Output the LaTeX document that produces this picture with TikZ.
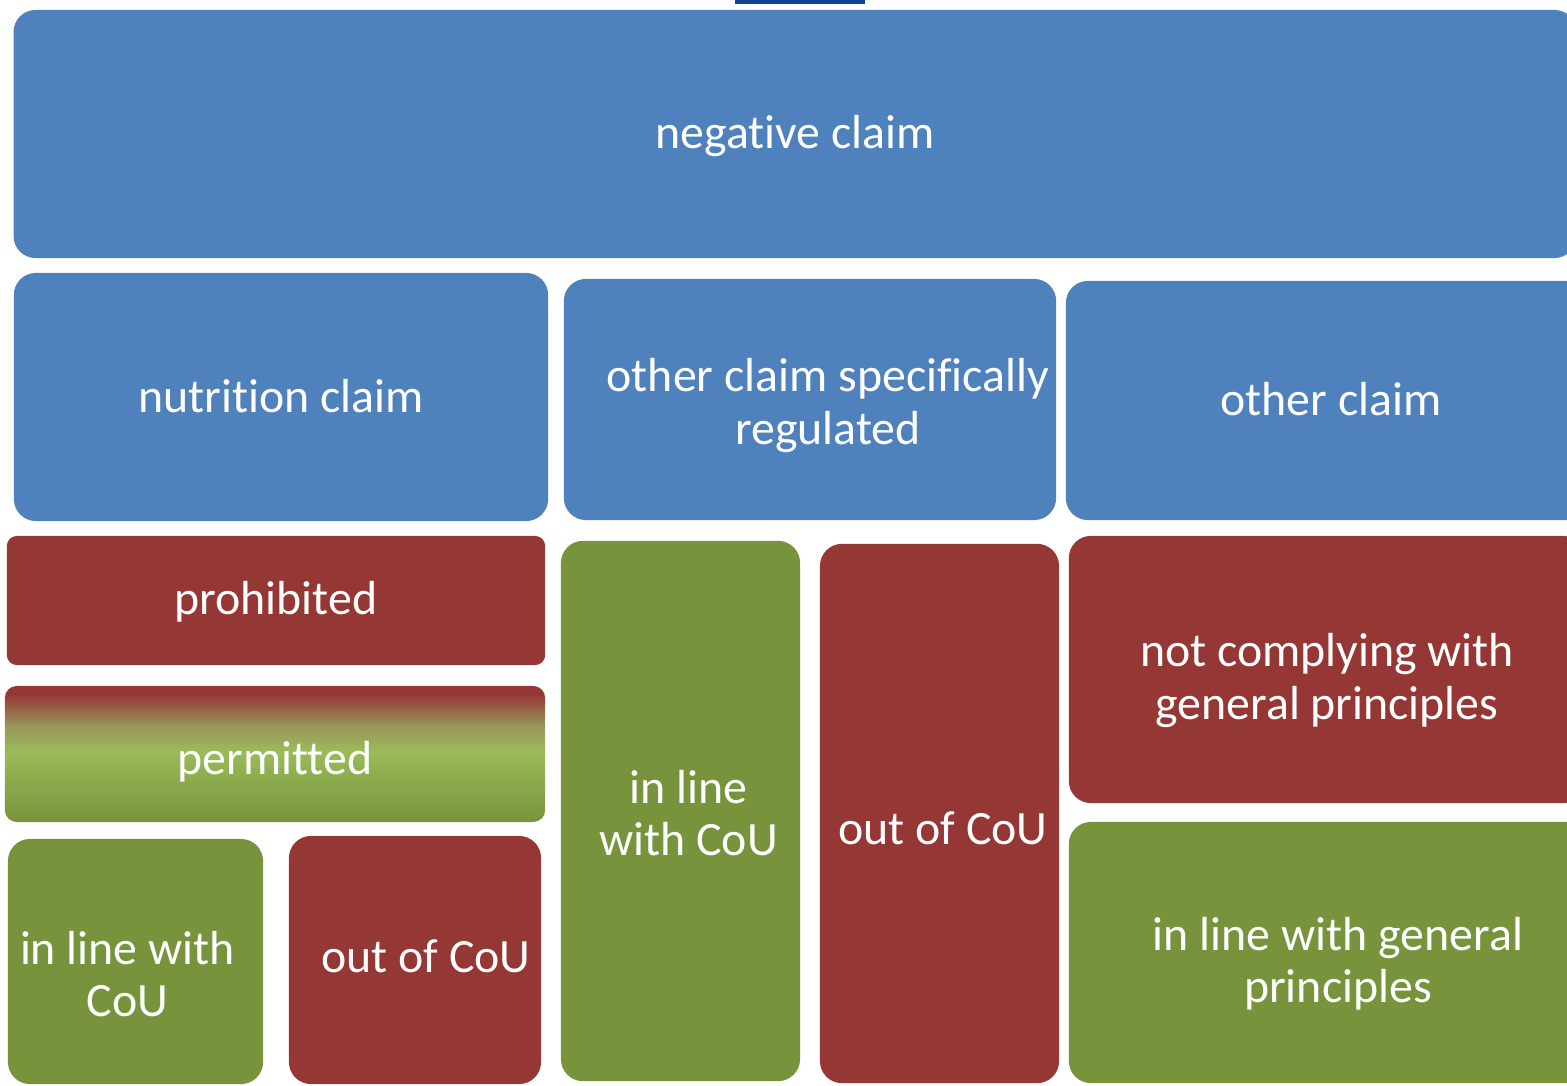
\documentclass[tikz,border=0pt]{standalone}
\usepackage{fontspec}
\setmainfont{Carlito}[Ligatures=NoCommon]
\definecolor{claimblue}{HTML}{4F81BD}
\definecolor{barblue}{HTML}{0F4594}
\definecolor{nogored}{HTML}{953735}
\definecolor{okgreen}{HTML}{77933C}
\definecolor{okgreenlight}{HTML}{9BBB59}
\definecolor{midolive}{HTML}{98985C}
\pgfdeclareverticalshading{permitfade}{100bp}{color(0bp)=(okgreen); color(25bp)=(okgreen); color(51bp)=(okgreenlight); color(60bp)=(midolive); color(72bp)=(nogored); color(100bp)=(nogored)}
\tikzset{
  box/.style={rectangle, rounded corners=0.22cm, inner sep=0pt},
  claim/.style={box, fill=claimblue},
  nogo/.style={box, fill=nogored},
  okay/.style={box, fill=okgreen},
  tag/.style={inner sep=0pt, text=white, align=center, font=\fontsize{13.6}{14.8}\selectfont},
}
\begin{document}
\begin{tikzpicture}[x=0.01cm,y=-0.01cm]
    \useasboundingbox (0,0) rectangle (1567,1085);
    \clip (0,0) rectangle (1567,1085);
    \fill [barblue] (735,0) rectangle (865,4);
    % claim types
    \node [claim, minimum width=15.62cm, minimum height=2.48cm] (neg) at (795,134) {};
    \node [claim, minimum width=5.34cm, minimum height=2.48cm] (nutri) at (281,397) {};
    \node [claim, minimum width=4.92cm, minimum height=2.41cm] (spec) at (810,399.5) {};
    \node [claim, minimum width=5.28cm, minimum height=2.39cm] (other) at (1330,400.5) {};
    \node [tag] (neg-t) at (795,136) {negative claim};
    \node [tag] (nutri-t) at (281,396) {nutrition claim};
    \node [tag] (spec-t) at (828,405.5) {other claim specifically\\regulated};
    \node [tag] (other-t) at (1331,399.5) {other claim};
    % nutrition claim
    \node [nogo, rounded corners=0.1cm, minimum width=5.38cm, minimum height=1.29cm] (prohib) at (276,600.5) {};
    \node [box, rounded corners=0.12cm, shading=permitfade, minimum width=5.40cm, minimum height=1.36cm] (permit) at (275,754) {};
    \node [okay, minimum width=2.55cm, minimum height=2.45cm] (lcou) at (135.5,961.5) {};
    \node [nogo, minimum width=2.52cm, minimum height=2.48cm] (lout) at (415,960) {};
    \node [tag] (prohib-t) at (276,601.5) {prohibited};
    \node [tag] (permit-t) at (275,762) {permitted};
    \node [tag] (lcou-t) at (127.5,974.5) {in line with\\CoU};
    \node [tag] (lout-t) at (426,956) {out of CoU};
    % specifically regulated
    \node [okay, minimum width=2.39cm, minimum height=5.40cm] (mcou) at (680.5,811) {};
    \node [nogo, minimum width=2.39cm, minimum height=5.39cm] (mout) at (939.5,813.5) {};
    \node [tag] (mcou-t) at (688.5,813) {in line\\with CoU};
    \node [tag] (mout-t) at (943,828.5) {out of CoU};
    % other claim
    \node [nogo, minimum width=5.16cm, minimum height=2.67cm] (notgen) at (1327,669.5) {};
    \node [okay, minimum width=5.36cm, minimum height=2.61cm] (ingen) at (1337,952.5) {};
    \node [tag] (notgen-t) at (1327,680.5) {not complying with\\general principles};
    \node [tag] (ingen-t) at (1338,964) {in line with general\\principles};
\end{tikzpicture}
\end{document}
